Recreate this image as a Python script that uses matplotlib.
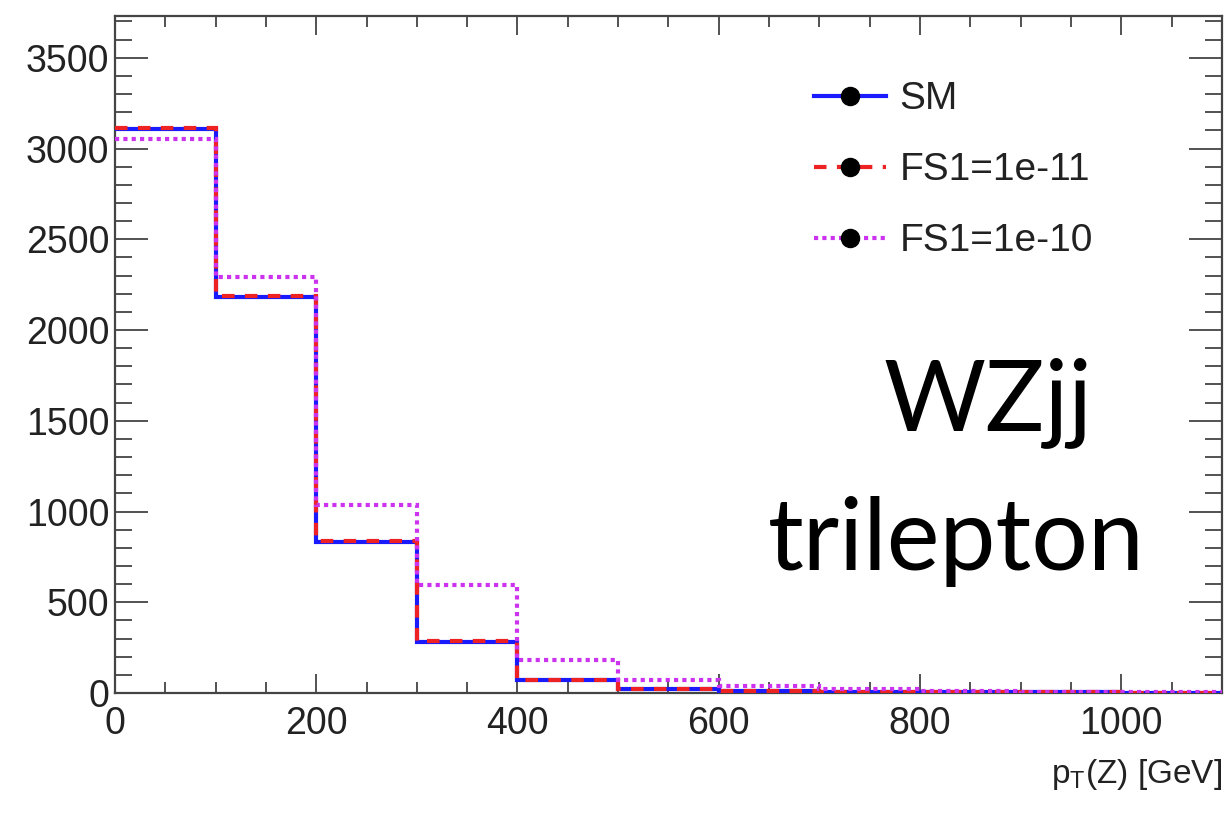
import matplotlib
matplotlib.use("Agg")
import matplotlib.pyplot as plt
from matplotlib.lines import Line2D
from matplotlib.ticker import MultipleLocator
import numpy as np

bin_edges = [0, 100, 200, 300, 400, 500, 600, 700, 800, 900, 1000, 1100]
sm = [3110, 2180, 830, 280, 70, 22, 10, 6, 4, 3, 2]
fs1_1e11 = [3115, 2185, 835, 285, 74, 24, 11, 7, 4, 3, 2]
fs1_1e10 = [3050, 2290, 1035, 595, 182, 70, 36, 20, 12, 8, 5]
labels = ["SM", "FS1=1e-11", "FS1=1e-10"]

plt.rcParams['font.family'] = ['Liberation Sans', 'DejaVu Sans']

fig = plt.figure(figsize=(12.28, 8.13), dpi=100)
ax = fig.add_axes([0.0936, 0.1476, 0.9014, 0.8327])

c_sm = '#1a1aff'
c_r = '#ee2222'
c_m = '#cc33ee'
lw = 3.0

ax.stairs(sm, bin_edges, baseline=None, color=c_sm, lw=lw, zorder=3)
ax.stairs(fs1_1e11, bin_edges, baseline=None, color=c_r, lw=lw, ls=(0, (3, 2.5)), zorder=4)
ax.stairs(fs1_1e10, bin_edges, baseline=None, color=c_m, lw=lw, ls=(0, (1, 1)), zorder=5)

ax.set_xlim(0, 1100)
ax.set_ylim(0, 3730)
ax.xaxis.set_major_locator(MultipleLocator(200))
ax.xaxis.set_minor_locator(MultipleLocator(50))
ax.yaxis.set_major_locator(MultipleLocator(500))
ax.yaxis.set_minor_locator(MultipleLocator(100))

for s in ax.spines.values():
    s.set_color('#444444')
    s.set_linewidth(1.6)

ax.tick_params(axis='both', which='both', direction='in', top=True, right=True,
               color='#444444', width=1.3, labelsize=27, labelcolor='#222222')
ax.tick_params(axis='y', which='major', length=24, pad=4)
ax.tick_params(axis='y', which='minor', length=12)
ax.tick_params(axis='x', which='major', length=14, pad=9)
ax.tick_params(axis='x', which='minor', length=8)

ax.text(1.0, -0.095, r'p$_{\mathregular{T}}$(Z) [GeV]', transform=ax.transAxes,
        ha='right', va='top', fontsize=24, color='#222222')

mk = dict(marker='o', markersize=13, markerfacecolor='black', markeredgecolor='black')
handles = [
    Line2D([], [], color=c_sm, lw=lw, **mk),
    Line2D([], [], color=c_r, lw=lw, ls=(0, (3, 2.5)), **mk),
    Line2D([], [], color=c_m, lw=lw, ls=(0, (1, 1)), **mk),
]
leg = ax.legend(handles, labels, loc='upper left', bbox_to_anchor=(0.60, 0.955), frameon=False,
                fontsize=28, handlelength=1.85, labelspacing=0.9, handletextpad=0.35,
                labelcolor='#222222')

ax.text(0.7886, 0.3885, 'WZjj', transform=ax.transAxes, ha='center', va='baseline',
        fontsize=71, family=['Lato', 'DejaVu Sans'], color='black')
ax.text(0.7597, 0.1817, 'trilepton', transform=ax.transAxes, ha='center', va='baseline',
        fontsize=72, family=['Lato', 'DejaVu Sans'], color='black')

fig.savefig('out.png', dpi=100)
